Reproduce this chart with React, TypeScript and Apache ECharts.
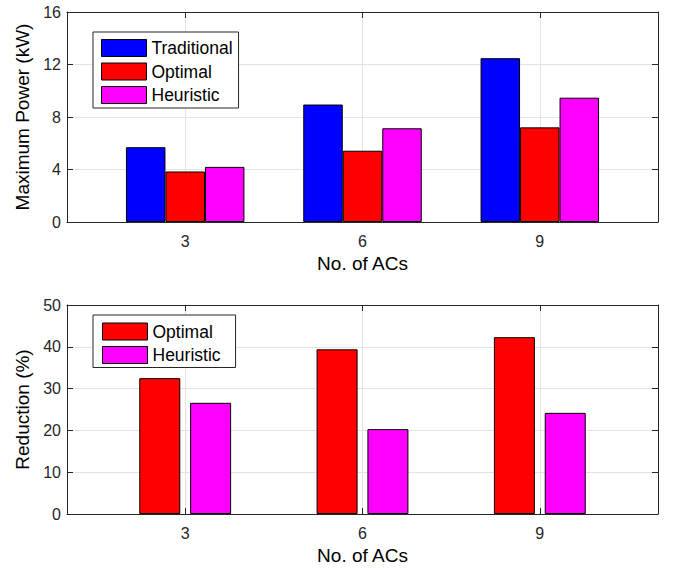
import React, { useEffect, useRef } from "react";
import * as echarts from "echarts";

// Number of air conditioners in each scenario
const acCounts = [3, 6, 9];

// Peak power demand (kW) per scheduling strategy
const traditionalPower = [5.7, 8.95, 12.48];
const optimalPower = [3.85, 5.43, 7.21];
const heuristicPower = [4.2, 7.14, 9.47];

// Peak reduction relative to the traditional strategy (%)
const optimalReduction = [32.5, 39.4, 42.3];
const heuristicReduction = [26.6, 20.3, 24.2];

const FONT = "'Liberation Sans', Arial, Helvetica, sans-serif";
const AXIS_COLOR = "#262626";
const GRID_COLOR = "#e3e3e3";

const pairs = (vals: number[]) => acCounts.map((c, i) => [c, vals[i]]);

function bottomXAxis(gridIndex: number) {
  return {
    type: "value",
    gridIndex,
    position: "bottom",
    min: 1,
    max: 11,
    name: "No. of ACs",
    nameLocation: "middle",
    nameGap: 32,
    nameTextStyle: { fontFamily: FONT, fontSize: 19, color: "#000" },
    axisLine: { show: true, onZero: false, lineStyle: { color: AXIS_COLOR, width: 1 } },
    axisTick: { show: true, inside: true, length: 6, customValues: acCounts, lineStyle: { color: AXIS_COLOR } },
    axisLabel: { show: true, customValues: acCounts, margin: 11, fontFamily: FONT, fontSize: 16, color: AXIS_COLOR },
    splitLine: { show: true, lineStyle: { color: GRID_COLOR, width: 1 } },
  };
}

function topXAxis(gridIndex: number) {
  return {
    type: "value",
    gridIndex,
    position: "top",
    min: 1,
    max: 11,
    axisLine: { show: true, onZero: false, lineStyle: { color: AXIS_COLOR, width: 1 } },
    axisTick: { show: true, inside: true, length: 6, customValues: acCounts, lineStyle: { color: AXIS_COLOR } },
    axisLabel: { show: false },
    splitLine: { show: false },
  };
}

function leftYAxis(gridIndex: number, max: number, interval: number, name: string) {
  return {
    type: "value",
    gridIndex,
    position: "left",
    min: 0,
    max,
    interval,
    name,
    nameLocation: "middle",
    nameGap: 31,
    nameTextStyle: { fontFamily: FONT, fontSize: 19, color: "#000" },
    axisLine: { show: true, onZero: false, lineStyle: { color: AXIS_COLOR, width: 1 } },
    axisTick: { show: true, inside: true, length: 6, lineStyle: { color: AXIS_COLOR } },
    axisLabel: { margin: 6, fontFamily: FONT, fontSize: 16, color: AXIS_COLOR },
    splitLine: { show: true, lineStyle: { color: GRID_COLOR, width: 1 } },
  };
}

function rightYAxis(gridIndex: number, max: number, interval: number) {
  return {
    type: "value",
    gridIndex,
    position: "right",
    min: 0,
    max,
    interval,
    axisLine: { show: true, onZero: false, lineStyle: { color: AXIS_COLOR, width: 1 } },
    axisTick: { show: true, inside: true, length: 6, lineStyle: { color: AXIS_COLOR } },
    axisLabel: { show: false },
    splitLine: { show: false },
  };
}

const barStyle = (color: string) => ({ color, borderColor: "#000", borderWidth: 1 });

export default function App() {
  const ref = useRef<HTMLDivElement>(null);

  useEffect(() => {
    if (!ref.current) return;
    const chart = echarts.init(ref.current, undefined, { renderer: "svg" });

    const option: any = {
      animation: false,
      backgroundColor: "#fff",
      grid: [
        { left: 67, top: 12, width: 591, height: 210 },
        { left: 67, top: 305, width: 591, height: 209 },
      ],
      xAxis: [bottomXAxis(0), topXAxis(0), bottomXAxis(1), topXAxis(1)],
      yAxis: [
        leftYAxis(0, 16, 4, "Maximum Power (kW)"),
        rightYAxis(0, 16, 4),
        leftYAxis(1, 50, 10, "Reduction (%)"),
        rightYAxis(1, 50, 10),
      ],
      legend: [
        {
          orient: "vertical",
          left: 93,
          top: 32,
          padding: [7, 6, 4, 8],
          itemGap: 5.5,
          itemWidth: 45,
          itemHeight: 17,
          icon: "rect",
          backgroundColor: "#fff",
          borderColor: AXIS_COLOR,
          borderWidth: 1,
          borderRadius: 0,
          selectedMode: false,
          itemStyle: { borderColor: "#000", borderWidth: 1 },
          textStyle: { fontFamily: FONT, fontSize: 17.5, color: "#000" },
          data: ["Traditional", "Optimal", "Heuristic"],
        },
        {
          orient: "vertical",
          left: 93,
          top: 315,
          padding: [7.5, 15, 3.5, 9],
          itemGap: 5.5,
          itemWidth: 45,
          itemHeight: 17,
          icon: "rect",
          backgroundColor: "#fff",
          borderColor: AXIS_COLOR,
          borderWidth: 1,
          borderRadius: 0,
          selectedMode: false,
          itemStyle: { borderColor: "#000", borderWidth: 1 },
          textStyle: { fontFamily: FONT, fontSize: 17.5, color: "#000" },
          data: ["Optimal", "Heuristic"],
        },
      ],
      series: [
        {
          type: "bar",
          name: "Traditional",
          xAxisIndex: 0,
          yAxisIndex: 0,
          barWidth: 39.5,
          barGap: "0%",
          itemStyle: barStyle("#0000ff"),
          data: pairs(traditionalPower),
        },
        {
          type: "bar",
          name: "Optimal",
          xAxisIndex: 0,
          yAxisIndex: 0,
          barWidth: 39.5,
          barGap: "0%",
          itemStyle: barStyle("#ff0000"),
          data: pairs(optimalPower),
        },
        {
          type: "bar",
          name: "Heuristic",
          xAxisIndex: 0,
          yAxisIndex: 0,
          barWidth: 39.5,
          barGap: "0%",
          itemStyle: barStyle("#ff00ff"),
          data: pairs(heuristicPower),
        },
        {
          type: "bar",
          name: "Optimal",
          xAxisIndex: 2,
          yAxisIndex: 2,
          barWidth: 41,
          barGap: "24%",
          itemStyle: barStyle("#ff0000"),
          data: pairs(optimalReduction),
        },
        {
          type: "bar",
          name: "Heuristic",
          xAxisIndex: 2,
          yAxisIndex: 2,
          barWidth: 41,
          barGap: "24%",
          itemStyle: barStyle("#ff00ff"),
          data: pairs(heuristicReduction),
        },
      ],
    };

    chart.setOption(option);
    return () => chart.dispose();
  }, []);

  return (
    <div
      ref={ref}
      style={{ position: "fixed", left: 0, top: 0, width: 674, height: 573, background: "#fff" }}
    />
  );
}
